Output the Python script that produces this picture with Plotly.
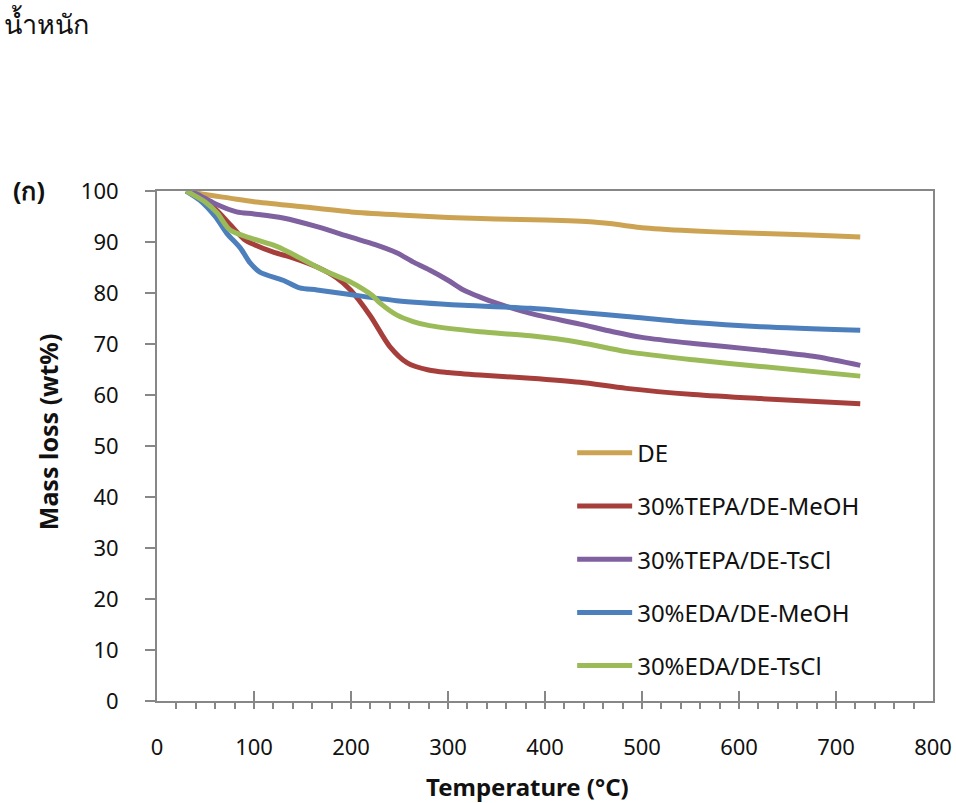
import plotly.graph_objects as go

# Thermogravimetric curves: temperature (°C) vs remaining mass (wt%)
names = ["DE", "30%TEPA/DE-MeOH", "30%TEPA/DE-TsCl", "30%EDA/DE-MeOH", "30%EDA/DE-TsCl"]
colors = ["#CCA352", "#A63F3B", "#7F61A0", "#4D7FBC", "#9BBB58"]

de_t = [30, 50, 75, 100, 150, 200, 250, 300, 350, 400, 450, 480, 500, 550, 600, 650, 700, 725]
de_w = [100, 99.3, 98.6, 97.9, 96.9, 95.9, 95.3, 94.8, 94.5, 94.3, 93.9, 93.3, 92.8, 92.2, 91.8, 91.5, 91.2, 91.0]

tepa_meoh_t = [30, 40, 60, 75, 90, 100, 120, 140, 165, 185, 200, 220, 240, 258, 280, 300, 333, 385, 436, 484, 553, 622, 725]
tepa_meoh_w = [100, 99.2, 96.5, 93.5, 90.5, 89.5, 88.0, 86.9, 85.1, 83.0, 80.5, 75.5, 69.5, 66.3, 64.9, 64.4, 63.9, 63.3, 62.5, 61.3, 60.1, 59.3, 58.3]

tepa_tscl_t = [30, 40, 60, 82, 100, 130, 165, 199, 225, 247, 265, 281, 300, 316, 333, 350, 385, 436, 470, 500, 553, 622, 680, 725]
tepa_tscl_w = [100, 99.5, 97.5, 95.9, 95.5, 94.7, 93.0, 91.0, 89.5, 87.9, 86.0, 84.5, 82.5, 80.6, 79.2, 78.0, 76.0, 73.9, 72.4, 71.3, 70.1, 68.8, 67.5, 65.8]

eda_meoh_t = [30, 44, 60, 72, 86, 96, 106, 130, 147, 165, 199, 247, 316, 385, 436, 484, 553, 622, 725]
eda_meoh_w = [100, 98.2, 95.0, 91.7, 88.8, 85.9, 84.1, 82.5, 81.0, 80.6, 79.7, 78.5, 77.6, 77.0, 76.2, 75.4, 74.2, 73.4, 72.7]

eda_tscl_t = [30, 34, 50, 62, 75, 96, 124, 147, 171, 199, 212, 222, 230, 247, 264, 281, 333, 385, 436, 484, 553, 622, 725]
eda_tscl_w = [100, 99.6, 97.8, 95.7, 92.4, 90.8, 89.1, 86.9, 84.5, 82.2, 80.8, 79.5, 78.0, 75.7, 74.4, 73.6, 72.4, 71.6, 70.3, 68.5, 66.9, 65.6, 63.7]

x_ticks = [0, 100, 200, 300, 400, 500, 600, 700, 800]
y_ticks = [0, 10, 20, 30, 40, 50, 60, 70, 80, 90, 100]

series = [(de_t, de_w), (tepa_meoh_t, tepa_meoh_w), (tepa_tscl_t, tepa_tscl_w),
          (eda_meoh_t, eda_meoh_w), (eda_tscl_t, eda_tscl_w)]

FONT = "Noto Sans"
AXIS = "#878787"
INK = "#111111"

fig = go.Figure()
for i, ((t, w), name, col) in enumerate(zip(series, names, colors)):
    fig.add_trace(go.Scatter(
        x=t, y=w, name=name, mode="lines", legendgroup=str(i),
        line=dict(color=col, width=5, shape="spline", smoothing=0.8),
    ))

fig.update_layout(
    width=956, height=803, autosize=False,
    margin=dict(l=157, r=23, t=191, b=102, autoexpand=False),
    paper_bgcolor="white", plot_bgcolor="white",
    font=dict(family=FONT, color=INK, size=21),
    showlegend=True,
    legend=dict(
        x=0.535, y=0.53, xanchor="left", yanchor="top",
        bgcolor="rgba(0,0,0,0)", font=dict(size=24, family=FONT, color=INK),
        tracegroupgap=19, itemwidth=55,
    ),
    xaxis=dict(
        range=[0, 800], tickvals=x_ticks, ticktext=[str(v) for v in x_ticks],
        automargin=False,
        showgrid=False, zeroline=False, showline=True, linecolor=AXIS, linewidth=2,
        mirror=True, ticks="inside", ticklen=10, tickwidth=2, tickcolor=AXIS,
        ticklabelstandoff=26,
        minor=dict(ticks="outside", ticklen=6, tickwidth=2, tickcolor=AXIS, dtick=20, showgrid=False),
        tickfont=dict(size=22, family=FONT, color=INK),
    ),
    yaxis=dict(
        range=[0, 100], tickvals=y_ticks, ticktext=[str(v) for v in y_ticks],
        automargin=False,
        showgrid=False, zeroline=False, showline=True, linecolor=AXIS, linewidth=2,
        mirror=True, ticks="outside", ticklen=10, tickwidth=2, tickcolor=AXIS,
        ticklabelstandoff=22,
        tickfont=dict(size=22, family=FONT, color=INK),
    ),
)

# axis titles and captions
fig.add_annotation(text="<b>Mass loss (wt%)</b>", xref="paper", yref="paper",
                   x=-0.1405, y=0.529, textangle=-90, showarrow=False,
                   xanchor="center", yanchor="middle", font=dict(size=25, family=FONT, color=INK))
fig.add_annotation(text="<b>Temperature (°C)</b>", xref="paper", yref="paper",
                   x=0.477, y=-0.168, showarrow=False,
                   xanchor="center", yanchor="middle", font=dict(size=24, family=FONT, color=INK))
fig.add_annotation(text="<b>(ก)</b>", xref="paper", yref="paper",
                   x=-0.165, y=1.002, showarrow=False,
                   xanchor="center", yanchor="middle", font=dict(size=25, family=FONT, color=INK))
fig.add_annotation(text="น้ำหนัก", xref="paper", yref="paper",
                   x=-0.2, y=1.329, showarrow=False,
                   xanchor="left", yanchor="middle", font=dict(size=27, family=FONT, color=INK))

fig.write_html("out.html")
